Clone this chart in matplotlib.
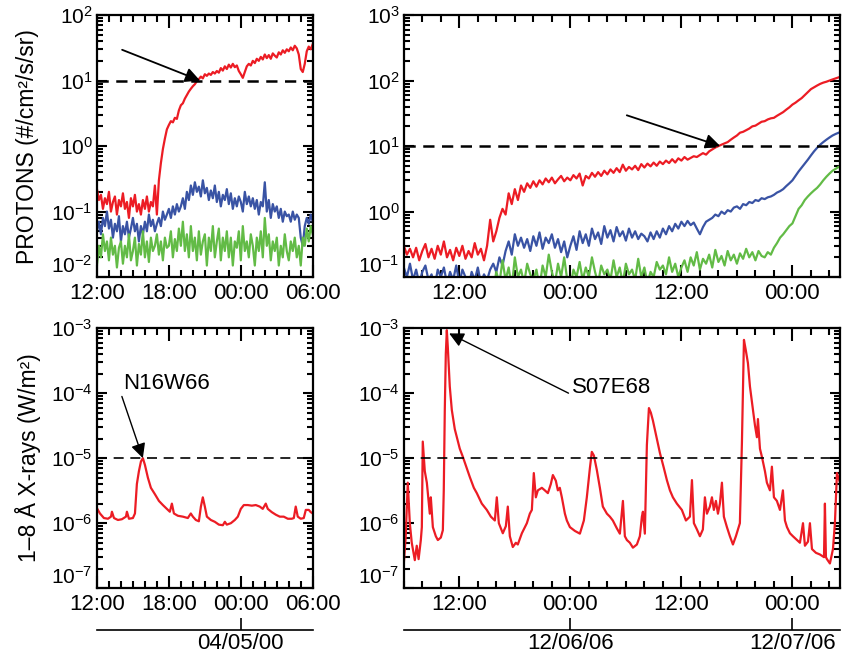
import matplotlib.pyplot as plt
import numpy as np
from matplotlib.ticker import FixedLocator, LogLocator, LogFormatterMathtext, NullFormatter

plt.rcParams['font.family'] = ['Liberation Sans', 'DejaVu Sans']
plt.rcParams['mathtext.fontset'] = 'custom'
plt.rcParams['mathtext.rm'] = 'Liberation Sans'

RED = '#ec1c24'
BLUE = '#3953a4'
GREEN = '#62bb46'

# ---- 2000-04-04 12:00 -> 04-05 06:00, protons every 10 min ----
p1_step = 10 / 60.0
p1_red = [0.22, 0.15, 0.18, 0.11, 0.16, 0.13,
          0.2, 0.1, 0.14, 0.17, 0.09, 0.15,
          0.12, 0.19, 0.11, 0.14, 0.08, 0.16,
          0.12, 0.18, 0.1, 0.13, 0.09, 0.15,
          0.11, 0.17, 0.1, 0.14, 0.12, 0.25,
          0.09, 0.3, 0.55, 0.9, 1.3, 1.8,
          2.1, 2.4, 2.3, 2.7, 2.6, 3.5,
          4.2, 4.5, 5.3, 6.0, 6.8, 7.5,
          8.2, 8.8, 9.8, 10.5, 11.5, 10.8,
          12.5, 11.8, 12.8, 12.2, 13.5, 12.8,
          14.0, 13.2, 15.5, 14.2, 16.5, 15.0,
          17.5, 15.8, 18.0, 16.0, 17.0, 14.0,
          12.5, 11.0, 13.5, 16.5, 18.0, 17.0,
          20.0, 18.5, 21.5, 20.0, 23.0, 21.0,
          25.0, 22.0, 24.5, 21.5, 26.0, 24.0,
          22.5, 27.0, 25.0, 29.0, 26.5, 30.0,
          28.0, 32.0, 29.0, 34.0, 31.0, 25.0,
          15.0, 13.5, 18.0, 28.0, 33.0, 30.0,
          36.0]
p1_blue = [0.05, 0.07, 0.045, 0.08, 0.06, 0.1,
           0.055, 0.075, 0.04, 0.065, 0.05, 0.085,
           0.035, 0.06, 0.045, 0.07, 0.04, 0.055,
           0.08, 0.05, 0.065, 0.035, 0.06, 0.045,
           0.07, 0.05, 0.09, 0.06, 0.075, 0.05,
           0.065, 0.08, 0.06, 0.1, 0.075, 0.09,
           0.11, 0.08, 0.12, 0.09, 0.13, 0.1,
           0.12, 0.16, 0.11, 0.2, 0.15, 0.25,
           0.18, 0.28, 0.2, 0.24, 0.17, 0.3,
           0.19, 0.23, 0.15, 0.21, 0.16, 0.25,
           0.14, 0.2, 0.12, 0.18, 0.15, 0.22,
           0.13, 0.19, 0.11, 0.16, 0.12, 0.17,
           0.14, 0.1, 0.2, 0.13, 0.17, 0.12,
           0.16, 0.11, 0.15, 0.09, 0.14, 0.12,
           0.28, 0.1, 0.15, 0.08, 0.13, 0.1,
           0.12, 0.08, 0.11, 0.07, 0.1, 0.085,
           0.09, 0.07, 0.1, 0.075, 0.09, 0.08,
           0.04, 0.03, 0.06, 0.08, 0.065, 0.09,
           0.07]
p1_green = [0.015, 0.03, 0.02, 0.045, 0.025, 0.035,
            0.018, 0.04, 0.022, 0.03, 0.014, 0.028,
            0.035, 0.016, 0.03, 0.02, 0.045, 0.018,
            0.025, 0.04, 0.015, 0.032, 0.022, 0.05,
            0.02, 0.035, 0.017, 0.04, 0.025, 0.03,
            0.045, 0.022, 0.035, 0.018, 0.04, 0.028,
            0.03, 0.05, 0.02, 0.038, 0.025, 0.055,
            0.03, 0.07, 0.025, 0.045, 0.02, 0.06,
            0.025, 0.04, 0.018, 0.05, 0.022, 0.035,
            0.045, 0.015, 0.04, 0.025, 0.06, 0.02,
            0.035, 0.055, 0.018, 0.04, 0.025, 0.05,
            0.02, 0.04, 0.015, 0.035, 0.028, 0.05,
            0.018, 0.06, 0.025, 0.035, 0.02, 0.045,
            0.03, 0.015, 0.04, 0.025, 0.05, 0.02,
            0.08, 0.03, 0.045, 0.018, 0.035, 0.025,
            0.04, 0.015, 0.03, 0.02, 0.045, 0.025,
            0.018, 0.035, 0.025, 0.04, 0.02, 0.03,
            0.015, 0.04, 0.03, 0.055, 0.035, 0.06,
            0.045]

# ---- 2006-12-05 06:00 -> 12-07 05:00, protons every 20 min ----
p2_step = 20 / 60.0
p2_red = [0.3, 0.22, 0.27, 0.2, 0.28, 0.18, 0.25, 0.32, 0.2, 0.27, 0.19, 0.3,
          0.22, 0.35, 0.2, 0.26, 0.18, 0.28, 0.21, 0.3, 0.19, 0.25, 0.2, 0.33,
          0.22, 0.27, 0.18, 0.3, 0.75, 0.35, 0.5, 0.8, 1.1, 0.9, 1.9, 1.3,
          2.2, 1.5, 2.5, 2.0, 2.7, 2.3, 2.9, 2.4, 3.0, 2.6, 3.2, 2.8,
          3.3, 2.7, 3.1, 3.5, 2.9, 3.3,
          3.0, 3.6, 3.2, 3.8, 2.5, 3.5, 3.2, 3.9, 3.4, 4.0, 3.5, 4.2,
          3.7, 4.4, 3.9, 4.6, 4.0, 5.2, 4.2, 4.8, 4.4, 5.0, 4.3, 5.3,
          4.7, 5.4, 4.9, 5.6, 5.0, 5.8, 5.3, 6.0, 5.5, 6.3, 5.6, 6.5,
          6.0, 6.8, 6.2, 6.6, 7.0, 6.8, 7.3, 7.8, 7.4, 8.3, 8.9, 9.5,
          10.0, 10.5, 11.0, 11.5, 12.5, 13.5, 14.5, 16.0, 16.5, 17.5, 18.5, 20.0,
          20.5, 22.0, 23.5, 24.0, 25.5, 26.5, 27.0, 29.0, 31.0, 33.0, 36.0, 39.0,
          43.0, 46.0, 50.0, 54.0, 60.0, 67.0, 74.0, 79.0, 84.0, 89.0, 93.0, 96.0,
          100.0, 104.0, 108.0, 112.0]
p2_blue = [0.14, 0.1, 0.16, 0.09, 0.13, 0.08, 0.12, 0.15, 0.09, 0.11, 0.07, 0.13,
           0.1, 0.14, 0.08, 0.12, 0.09, 0.15, 0.08, 0.13, 0.1, 0.07, 0.12, 0.09,
           0.14, 0.08, 0.11, 0.09, 0.13, 0.16, 0.12, 0.2, 0.15, 0.25, 0.35, 0.22,
           0.45, 0.3, 0.4, 0.28, 0.38, 0.25, 0.42, 0.3, 0.48, 0.27, 0.4, 0.33,
           0.45, 0.28, 0.38, 0.24, 0.35, 0.2,
           0.3, 0.42, 0.26, 0.5, 0.33, 0.45, 0.3, 0.55, 0.38, 0.48, 0.32, 0.6,
           0.4, 0.52, 0.35, 0.58, 0.42, 0.5, 0.36, 0.55, 0.4, 0.5, 0.38, 0.46,
           0.42, 0.35, 0.48, 0.38, 0.5, 0.4, 0.55, 0.45, 0.6, 0.5, 0.65, 0.55,
           0.7, 0.6, 0.72, 0.62, 0.68, 0.55, 0.45, 0.58, 0.7, 0.75, 0.8, 0.9,
           0.85, 1.0, 0.92, 1.05, 1.0, 1.15, 1.2, 1.1, 1.3, 1.25, 1.4, 1.35,
           1.5, 1.45, 1.6, 1.55, 1.65, 1.7, 1.8, 1.95, 2.05, 2.2, 2.45, 2.7,
           3.0, 3.5, 4.1, 4.7, 5.4, 6.2, 7.2, 8.3, 9.4, 10.5, 11.5, 12.5,
           13.5, 14.5, 15.3, 16.0]
p2_green = [0.06, 0.08, 0.05, 0.07, 0.05, 0.08, 0.06, 0.09, 0.05, 0.07, 0.06, 0.08,
            0.05, 0.07, 0.06, 0.08, 0.05, 0.07, 0.06, 0.08, 0.05, 0.07, 0.06, 0.09,
            0.05, 0.08, 0.06, 0.07, 0.09, 0.06, 0.12, 0.08, 0.18, 0.09, 0.14, 0.07,
            0.2, 0.1, 0.13, 0.08, 0.16, 0.11, 0.09, 0.13, 0.07, 0.15, 0.1, 0.22,
            0.12, 0.08, 0.16, 0.1, 0.2, 0.09,
            0.07, 0.13, 0.1, 0.17, 0.09, 0.14, 0.1, 0.2, 0.12, 0.08, 0.15, 0.11,
            0.13, 0.09, 0.18, 0.1, 0.14, 0.08, 0.16, 0.11, 0.13, 0.09, 0.19, 0.1,
            0.14, 0.08, 0.12, 0.1, 0.17, 0.13, 0.15, 0.11, 0.2, 0.12, 0.16, 0.1,
            0.14, 0.18, 0.12, 0.2, 0.15, 0.24, 0.13, 0.19, 0.16, 0.22, 0.14, 0.26,
            0.17, 0.21, 0.15, 0.25, 0.18, 0.22, 0.16, 0.23, 0.19, 0.27, 0.2, 0.24,
            0.18, 0.25, 0.21, 0.2, 0.24, 0.22, 0.28, 0.33, 0.4, 0.45, 0.52, 0.6,
            0.66, 0.85, 1.1, 1.25, 1.5, 1.7, 1.9, 2.1, 2.3, 2.6, 3.0, 3.4,
            3.8, 4.2, 4.5, 4.8]

# ---- GOES 1-8 A X-rays, hours after panel start ----
x1_hours = [0, 0.25, 0.58, 0.92, 1.17, 1.25, 1.42, 1.75, 2.08, 2.42, 2.5, 2.67,
            3.0, 3.17, 3.33, 3.5, 3.67, 3.83, 4.0, 4.25, 4.5, 4.83, 5.17, 5.5,
            5.83, 6.08, 6.25, 6.42, 6.75, 7.17, 7.58, 7.83, 8.0, 8.25, 8.5, 8.67,
            8.83, 9.0, 9.17, 9.5, 9.83, 10.17, 10.5, 10.67, 10.83, 11.17, 11.5, 11.75,
            12.0, 12.25, 12.58, 12.92, 13.25, 13.58, 13.83, 14.08, 14.25, 14.58, 14.92, 15.25,
            15.58, 15.92, 16.25, 16.42, 16.58, 16.75, 17.0, 17.25, 17.42, 17.67, 17.83, 18.0]
x1_flux = [1.7e-6, 1.41e-6, 1.2e-6, 1.17e-6, 1.26e-6, 1.5e-6, 1.2e-6, 1.12e-6, 1.15e-6, 1.26e-6, 1.5e-6, 1.17e-6,
           1.2e-6, 1.41e-6, 4e-6, 6.3e-6, 8.9e-6, 1e-5, 7.9e-6, 5e-6, 3.5e-6, 2.8e-6, 2.2e-6, 1.9e-6,
           1.66e-6, 1.5e-6, 2e-6, 1.41e-6, 1.3e-6, 1.26e-6, 1.2e-6, 1.41e-6, 1.26e-6, 1.12e-6, 1.07e-6, 1.8e-6,
           2.5e-6, 1.8e-6, 1.26e-6, 1.12e-6, 1.05e-6, 9.5e-7, 9.3e-7, 1.05e-6, 9.5e-7, 1e-6, 1.12e-6, 1.26e-6,
           1.66e-6, 1.9e-6, 1.9e-6, 1.86e-6, 1.9e-6, 1.8e-6, 1.66e-6, 2e-6, 1.66e-6, 1.48e-6, 1.35e-6, 1.26e-6,
           1.26e-6, 1.17e-6, 1.17e-6, 1.2e-6, 1.8e-6, 1.26e-6, 1.17e-6, 1.2e-6, 1.6e-6, 1.6e-6, 1.48e-6, 1.41e-6]

x2_hours = [0.0, 0.2, 0.43, 0.65, 0.86, 1.19, 1.4, 1.6, 1.84, 1.95, 2.05, 2.27,
            2.49, 2.81, 2.92, 3.14, 3.46, 3.68, 4.0, 4.22, 4.32, 4.43, 4.54, 4.65,
            4.76, 4.86, 4.97, 5.19, 5.51, 5.73, 6.05, 6.38, 6.81, 7.14, 7.57, 7.89,
            8.43, 8.97, 9.41, 9.84, 10.05, 10.27, 10.7, 11.03, 11.24, 11.46, 11.78, 12.11,
            12.32, 12.76, 13.3, 13.62, 13.84, 14.05, 14.27, 14.49, 14.92, 15.24, 15.57, 15.89,
            16.11, 16.43, 16.65, 16.86, 17.08, 17.41, 17.62, 17.95, 18.49, 19.03, 19.46, 19.78,
            20.11, 20.32, 20.54, 20.86, 21.19, 21.51, 21.95, 22.27, 22.59, 23.03, 23.35, 23.68,
            23.89, 24.11, 24.43, 24.76, 25.19, 25.51, 25.73, 25.84, 26.05, 26.27, 26.49, 26.7,
            26.92, 27.35, 27.68, 28.11, 28.43, 28.76, 29.08, 29.51, 30.05, 30.49, 30.92, 31.14,
            31.35, 31.68, 32.0, 32.32, 32.54, 32.76, 33.08, 33.3, 33.51, 33.73, 33.95, 34.16,
            34.38, 34.59, 34.92, 35.24, 35.57, 35.89, 36.11, 36.32, 36.54, 36.76, 36.97, 37.19,
            37.41, 37.73, 37.95, 38.16, 38.27, 38.49, 38.7, 39.03, 39.24, 39.57, 39.78, 40.0,
            40.32, 40.65, 40.97, 41.19, 41.41, 41.73, 42.05, 42.49, 42.81, 43.14, 43.35, 43.68,
            43.89, 44.11, 44.54, 44.97, 45.41, 45.51, 45.62, 45.73, 46.05, 46.38, 46.59, 46.81,
            47.14]
x2_flux = [2.4e-7, 6e-7, 4.2e-6, 1e-6, 5e-7, 2.7e-7, 4.5e-7, 2.8e-7, 5.5e-7, 8.7e-7, 1.8e-5, 6.3e-6,
           4.2e-6, 1.4e-6, 2.5e-6, 8.7e-7, 6.3e-7, 5.5e-7, 6e-7, 7.8e-7, 3.2e-6, 5.5e-5, 4e-4, 9.3e-4,
           5e-4, 2.5e-4, 1.26e-4, 5.5e-5, 2.8e-5, 2.1e-5, 1.4e-5, 1.05e-5, 7e-6, 5.1e-6, 3.5e-6, 2.9e-6,
           2e-6, 1.6e-6, 1.26e-6, 1.1e-6, 2.5e-6, 1e-6, 7e-7, 9e-7, 1.8e-6, 6.3e-7, 4.3e-7, 5e-7,
           4.7e-7, 7e-7, 1e-6, 1.4e-6, 1.6e-6, 5.9e-6, 2.5e-6, 3.2e-6, 3.5e-6, 3.2e-6, 2.9e-6, 4e-6,
           5.5e-6, 4.5e-6, 3.2e-6, 3.5e-6, 2.5e-6, 1.4e-6, 1.1e-6, 8.7e-7, 7.6e-7, 6.9e-7, 1.1e-6, 2.5e-6,
           7e-6, 1.25e-5, 1.1e-5, 6.6e-6, 3.5e-6, 1.8e-6, 1.4e-6, 1.26e-6, 1.1e-6, 8.3e-7, 6.9e-7, 2.2e-6,
           6.3e-7, 5.5e-7, 5e-7, 4.2e-7, 4.7e-7, 6.3e-7, 1.26e-6, 1.5e-6, 6.9e-7, 1.6e-5, 5.9e-5, 5e-5,
           3.8e-5, 2e-5, 1.2e-5, 7e-6, 4.6e-6, 3.2e-6, 2.5e-6, 2e-6, 1.6e-6, 1.1e-6, 1.26e-6, 4.6e-6,
           1e-6, 8e-7, 6.3e-7, 8e-7, 2.5e-6, 1.4e-6, 1.8e-6, 2.5e-6, 1.6e-6, 2.2e-6, 1.4e-6, 2e-6,
           4.2e-6, 1.26e-6, 8.7e-7, 6.3e-7, 4.7e-7, 6.3e-7, 8e-7, 1e-6, 1.7e-5, 6.6e-4, 4.5e-4, 2.9e-4,
           1.26e-4, 5.5e-5, 3.2e-5, 2.1e-5, 4e-5, 1.4e-5, 1.05e-5, 6.3e-6, 4.2e-6, 3.2e-6, 7.4e-6, 2.5e-6,
           2.2e-6, 1.6e-6, 3.2e-6, 1.1e-6, 8.7e-7, 7e-7, 6.3e-7, 5.5e-7, 5e-7, 1e-6, 4.5e-7, 5.2e-7,
           1e-6, 4e-7, 3.5e-7, 3.3e-7, 3e-7, 2e-6, 3e-7, 2.8e-7, 2.4e-7, 4e-7, 1e-6, 5.9e-6,
           4.2e-6]

# tick labels
p1_ticks = [0, 6, 12, 18]
p1_labels = ['12:00', '18:00', '00:00', '06:00']
p2_ticks = [6, 18, 30, 42]
p2_labels = ['12:00', '00:00', '12:00', '00:00']
d1_ticks = [12]
d1_labels = ['04/05/00']
d2_ticks = [18, 42]
d2_labels = ['12/06/06', '12/07/06']


def style(ax, xmax, major, minor_step, labels, ylim):
    ax.set_yscale('log')
    ax.set_xlim(0, xmax)
    ax.set_ylim(*ylim)
    ax.xaxis.set_major_locator(FixedLocator(major))
    ax.xaxis.set_minor_locator(FixedLocator(np.arange(0, xmax + 0.01, minor_step)))
    ax.set_xticklabels(labels)
    # decade ticks inside the range only
    lo, hi = np.log10(ylim[0]), np.log10(ylim[1])
    ax.yaxis.set_major_locator(FixedLocator(10.0 ** np.arange(lo, hi + 0.5)))
    ax.yaxis.set_minor_locator(LogLocator(base=10, subs=np.arange(2, 10)))
    ax.yaxis.set_major_formatter(LogFormatterMathtext())
    ax.yaxis.set_minor_formatter(NullFormatter())
    ax.tick_params(which='both', direction='in', top=True, right=True, width=1.5)
    ax.tick_params(axis='x', which='major', length=9, labelsize=16, pad=4)
    ax.tick_params(axis='x', which='minor', length=5)
    ax.tick_params(axis='y', which='major', length=7, labelsize=15, pad=3)
    ax.tick_params(axis='y', which='minor', length=4)
    for s in ax.spines.values():
        s.set_linewidth(1.6)
    # lift the lowest decade label clear of the time labels
    ax.yaxis.get_major_ticks()[0].label1.set_verticalalignment('bottom')


def date_axis(ax, ticks, labels):
    sec = ax.secondary_xaxis(-0.16)
    sec.set_xticks(ticks)
    sec.set_xticklabels(labels)
    sec.tick_params(direction='in', length=9, width=1.2, labelsize=16, pad=2)
    sec.spines['bottom'].set_linewidth(1.2)


fig = plt.figure(figsize=(8.43, 6.55), dpi=100)
ax_tl = fig.add_axes([0.115, 0.577, 0.256, 0.400])
ax_tr = fig.add_axes([0.479, 0.577, 0.517, 0.400])
ax_bl = fig.add_axes([0.115, 0.102, 0.256, 0.397])
ax_br = fig.add_axes([0.479, 0.102, 0.517, 0.397])

arrow = dict(arrowstyle='-|>', color='k', lw=1.3, mutation_scale=22, shrinkA=0, shrinkB=0)

t1 = np.arange(len(p1_red)) * p1_step
ax_tl.plot(t1, p1_red, color=RED, lw=1.6)
ax_tl.plot(t1, p1_blue, color=BLUE, lw=1.6)
ax_tl.plot(t1, p1_green, color=GREEN, lw=1.6)
ax_tl.axhline(10, color='k', lw=1.8, ls=(0, (4.5, 3)))
style(ax_tl, 18, p1_ticks, 1, p1_labels, (1e-2, 1e2))
ax_tl.annotate('', xy=(8.6, 10), xytext=(2.1, 29.5), arrowprops=arrow)

t2 = np.arange(len(p2_red)) * p2_step
ax_tr.plot(t2, p2_red, color=RED, lw=1.6)
ax_tr.plot(t2, p2_blue, color=BLUE, lw=1.6)
ax_tr.plot(t2, p2_green, color=GREEN, lw=1.6)
ax_tr.axhline(10, color='k', lw=1.8, ls=(0, (4.5, 3)))
style(ax_tr, 47.1, p2_ticks, 2, p2_labels, (1e-1, 1e3))
ax_tr.annotate('', xy=(34.2, 10), xytext=(24.1, 29.5), arrowprops=arrow)

ax_bl.plot(x1_hours, x1_flux, color=RED, lw=1.6)
ax_bl.axhline(1e-5, color='k', lw=1.2, ls=(0, (6, 4)))
style(ax_bl, 18, p1_ticks, 1, p1_labels, (1e-7, 1e-3))
ax_bl.annotate('', xy=(3.83, 1e-5), xytext=(2.08, 8.9e-5), arrowprops=dict(arrow, lw=1.0))
ax_bl.text(2.2, 1.4e-4, 'N16W66', fontsize=16, ha='left', va='center')
date_axis(ax_bl, d1_ticks, d1_labels)

ax_br.plot(x2_hours, x2_flux, color=RED, lw=1.6)
ax_br.axhline(1e-5, color='k', lw=1.2, ls=(0, (6, 4)))
style(ax_br, 47.1, p2_ticks, 2, p2_labels, (1e-7, 1e-3))
ax_br.annotate('', xy=(4.9, 8.3e-4), xytext=(17.8, 1e-4), arrowprops=dict(arrow, lw=1.0))
ax_br.text(18.2, 1.23e-4, 'S07E68', fontsize=16, ha='left', va='center')
date_axis(ax_br, d2_ticks, d2_labels)

fig.text(0.033, 0.777, 'PROTONS (#/cm²/s/sr)', rotation=90, ha='center', va='center', fontsize=16.5)
fig.text(0.033, 0.301, '1–8 Å X-rays (W/m²)', rotation=90, ha='center', va='center', fontsize=16.5)

fig.savefig('out.png', dpi=100)
